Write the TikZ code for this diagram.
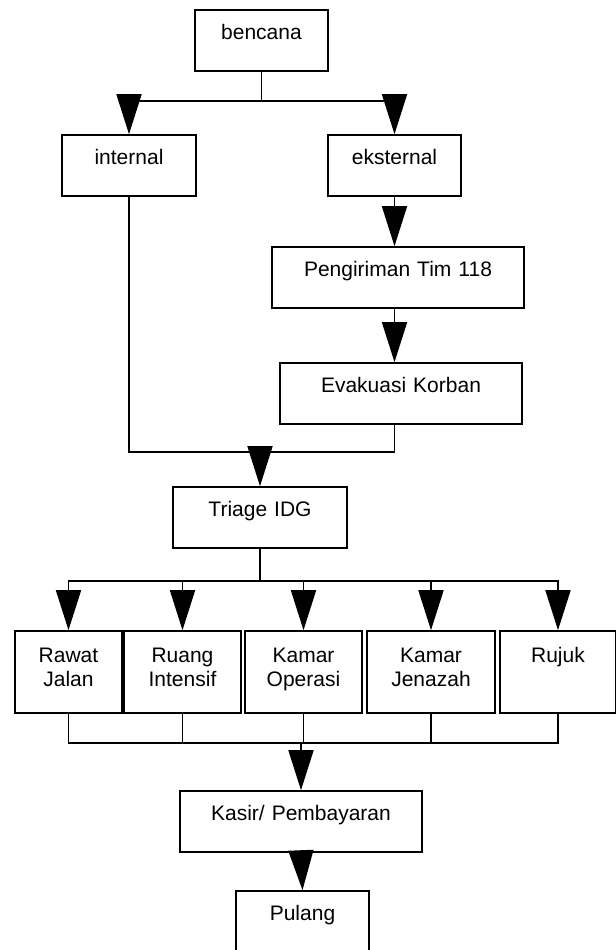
\documentclass[tikz,border=0pt]{standalone}
\usepackage{fontspec}
\setmainfont{Liberation Sans}
\usepackage{tikz}
\usetikzlibrary{arrows.meta,positioning}

\begin{document}
\begin{tikzpicture}[>={Triangle[length=20pt,width=12.5pt]},line width=0.8pt,on grid,font=\fontsize{10.5}{12}\selectfont]

    \tikzset{kotak/.style={draw,rectangle,inner sep=0pt,text width=#1,align=center,text height=14.5pt,text depth=16pt}}
    \tikzset{kotakb/.style={kotak=#1,text height=15.5pt,text depth=25.5pt}}
    \useasboundingbox (0,0) rectangle (308pt,-475pt);

    \node[kotak=66.5pt] (bencana) at (130.75pt,-20.25pt) {bencana};
    \node[kotak=67pt] (internal) [below left = 62.5pt and 66.25pt of bencana] {internal};
    \node[kotak=66.5pt] (eksternal) [below right = 62.5pt and 66.5pt of bencana] {eksternal};
    \node[kotak=126pt] (kirim) [below right = 56pt and 1.75pt of eksternal] {Pengiriman Tim 118};
    \node[kotak=121pt] (evakuasi) [below right = 58pt and 1.5pt of kirim] {Evakuasi Korban};
    \node[kotak=87pt] (triage) [below left = 238.5pt and 0.75pt of bencana] {Triage IDG};
    \node[kotakb=58.5pt] (operasi) [below right = 77.25pt and 21.75pt of triage] {Kamar\\Operasi};
    \node[kotakb=58.5pt] (intensif) [left = 60.5pt of operasi] {Ruang\\Intensif};
    \node[kotakb=53.5pt] (jalan) [left = 57pt of intensif] {Rawat\\Jalan};
    \node[kotakb=64pt] (jenazah) [right = 63.75pt of operasi] {Kamar\\Jenazah};
    \node[kotakb=58pt] (rujuk) [right = 63.5pt of jenazah] {Rujuk};
    \node[kotak=121pt] (kasir) [below left = 74.75pt and 1.25pt of operasi] {Kasir/ Pembayaran};
    \node[kotak=66.5pt] (pulang) [below right = 50pt and 0.75pt of kasir] {Pulang};

    % titik cabang dan titik gabung
    \coordinate (cabang1) at ([yshift=-14.5pt]bencana.south);
    \coordinate (gabung1) at ([yshift=17pt]triage.north);
    \coordinate (cabang2) at ([yshift=-16pt]triage.south);
    \coordinate (gabung2) at ([yshift=23.5pt]kasir.north);

    \draw (bencana.south) -- (cabang1);
    \draw[->] (cabang1) -| (internal.north);
    \draw[->] (cabang1) -| (eksternal.north);
    \draw[->] (eksternal.south) -- (eksternal.south |- kirim.north);
    \draw[->] (eksternal.south |- kirim.south) -- (eksternal.south |- evakuasi.north);
    \draw (internal.south) |- (gabung1) -| (eksternal.south |- evakuasi.south);
    \draw[->] (gabung1) -- (triage.north);

    \draw (triage.south) -- (cabang2);
    \draw[->] (cabang2) -| (jalan.north);
    \draw[->] (cabang2) -| (intensif.north);
    \draw[->] (cabang2) -| (operasi.north);
    \draw[->] (cabang2) -| (jenazah.north);
    \draw[->] (cabang2) -| (rujuk.north);

    \draw (jalan.south) |- (gabung2) -| (rujuk.south);
    \draw (intensif.south) -- (intensif.south |- gabung2);
    \draw (operasi.south) -- (operasi.south |- gabung2);
    \draw (jenazah.south) -- (jenazah.south |- gabung2);
    \draw[->] (gabung2) -- (kasir.north);
    \draw[->] (kasir.south) -- (pulang.north);
  \end{tikzpicture}
\end{document}
